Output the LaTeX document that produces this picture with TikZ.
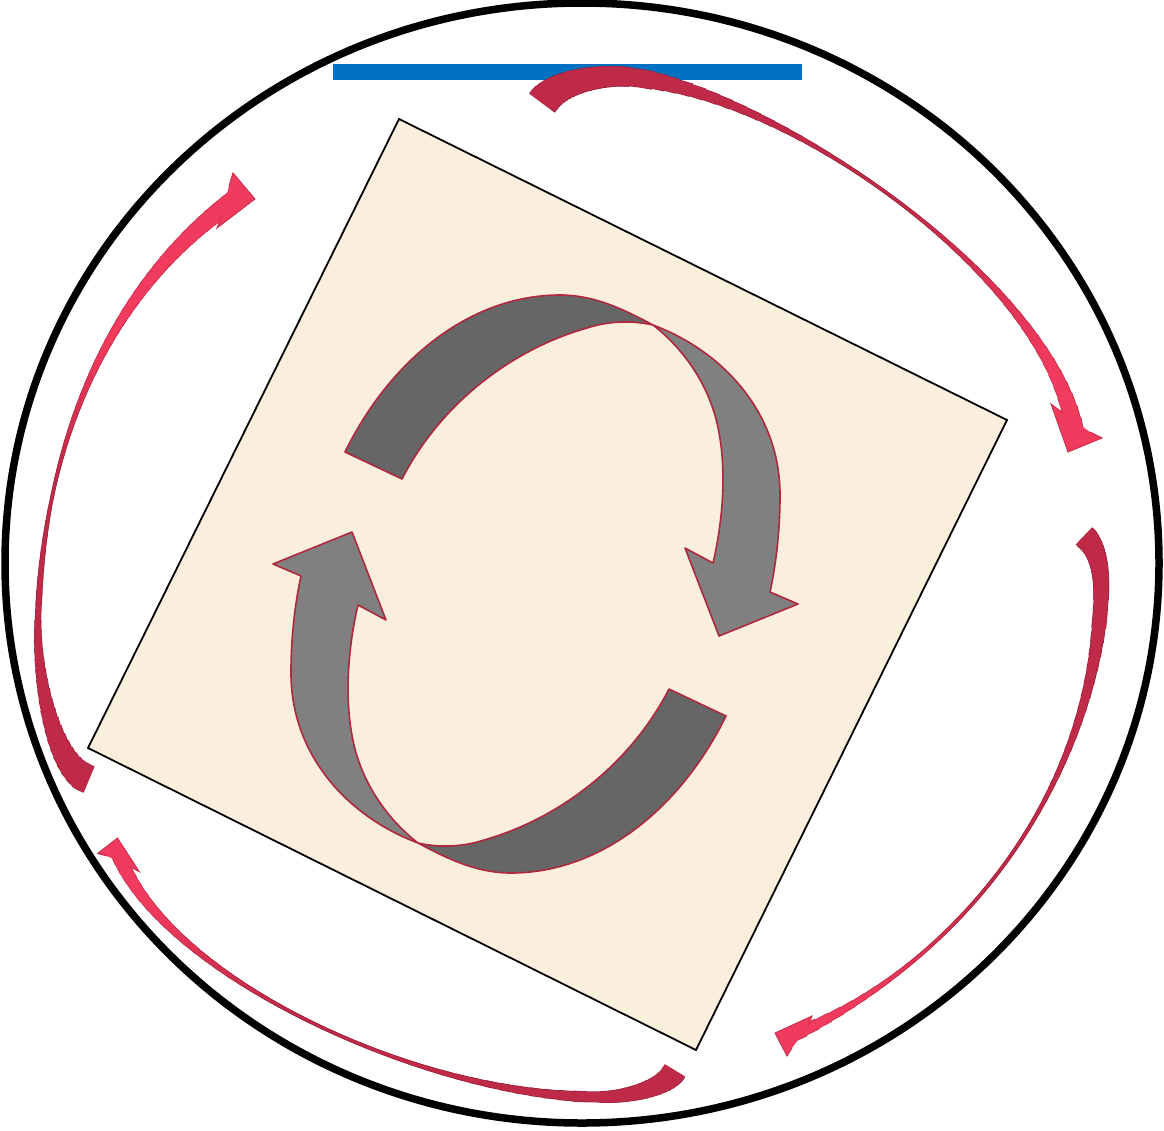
\documentclass[tikz,border=0pt]{standalone}
\definecolor{rdark}{HTML}{BE2A48}
\definecolor{rbright}{HTML}{F03A5E}
\definecolor{redge}{HTML}{C8304E}
\definecolor{gdark}{HTML}{666666}
\definecolor{glight}{HTML}{808080}
\definecolor{gedge}{HTML}{B0283F}
\definecolor{paper}{HTML}{FAEEDD}
\definecolor{barblue}{HTML}{0070C0}
% sample a cubic curve into named coordinates #1 0..#2
\newcommand\samplecurve[6]{%
  \foreach \k in {0,...,#2}{\path #3 .. controls #4 and #5 .. #6 coordinate[pos=\k/#2] (#1\k);}}
% tapered stroke: #1 prefix, #2 count, #3 width(\tq), #4 bright %(\tq), #5 extra width, #6 colour suffix
\newcommand\tapercore[6]{%
  \foreach \k in {1,...,#2}{%
    \pgfmathtruncatemacro\kp{\k-1}%
    \pgfmathtruncatemacro\kn{min(\k+1,#2)}%
    \pgfmathsetmacro\tq{(\k-0.5)/#2}%
    \pgfmathsetmacro\tpw{#3+#5}%
    \pgfmathtruncatemacro\mx{max(0,min(100,#4))}%
    \ifnum\k<#2
      \draw[line width=\tpw pt, draw=rbright!\mx!rdark#6, line cap=butt, line join=round] (#1\kp) -- (#1\k) -- (#1\kn);
    \else
      \draw[line width=\tpw pt, draw=rbright!\mx!rdark#6, line cap=butt] (#1\kp) -- (#1\k);
    \fi
  }%
}
\newcommand\taperout[4]{\tapercore{#1}{#2}{#3}{#4}{1.5}{!82!black}}
\newcommand\taperfill[4]{\tapercore{#1}{#2}{#3}{#4}{0}{}}
\tikzset{
  garrow/.style={draw=gedge, line width=1.6pt, line join=round},
  rhead/.style={fill=rbright},
  rheadedge/.style={draw=redge, line width=0.9pt, line join=miter}
}
\begin{document}
\begin{tikzpicture}[x=1pt,y=-1pt]
\useasboundingbox (0,0) rectangle (1164,1130);
% outer circle
\coordinate (cc) at (582,563);
\draw[line width=7.5pt] (cc) ellipse [x radius=577, y radius=560];
% blue bar
\coordinate (bl) at (333,64);
\coordinate (br) at (802,80);
\fill[barblue] (bl) rectangle (br);
% tilted square
\coordinate (sq1) at (399,119);
\coordinate (sq2) at (1007,420);
\coordinate (sq3) at (696,1050);
\coordinate (sq4) at (88,748);
\filldraw[fill=paper, draw=black, line width=1.8pt, line join=miter] (sq1) -- (sq2) -- (sq3) -- (sq4) -- cycle;
% gray cycle arrows
\foreach \ang in {0,180}{
\begin{scope}[rotate around={\ang:(535.5,584)}]
\filldraw[garrow, fill=glight] (653,325) .. controls (725,352) and (781,415) .. (780,497)
  .. controls (780,530) and (776,565) .. (770,592)
  -- (798,604) -- (719,636) -- (685,548) -- (713,563)
  .. controls (722,525) and (728,470) .. (717,423)
  .. controls (708,385) and (685,350) .. (653,325) -- cycle;
\filldraw[garrow, fill=gdark] (345,452) .. controls (390,360) and (470,295) .. (560,295)
  .. controls (595,295) and (625,310) .. (653,325)
  .. controls (635,321) and (612,320) .. (587,328)
  .. controls (510,350) and (440,405) .. (402,479) -- cycle;
\end{scope}
}
% ---- red arrow A (top) ----
\samplecurve{ra}{20}{(542,103)}{(555.75,82)}{(600,74)}{(630,77)}
\samplecurve{rb}{40}{(630,77)}{(780,92)}{(1049.9,278.5)}{(1074.3,430.2)}
\def\wAa{18+13*(1-\tq)^1.5}
\def\wAb{2+16*(max(0,0.45-\tq)/0.45)*(max(0,0.45-\tq)/0.45)+16*(max(0,\tq-0.45)/0.55)*(max(0,\tq-0.45)/0.55)}
\taperout{ra}{20}{\wAa}{0}
\taperout{rb}{40}{\wAb}{100*(\tq-0.5)/0.35}
\taperfill{ra}{20}{\wAa}{0}
\taperfill{rb}{40}{\wAb}{100*(\tq-0.5)/0.35}
\coordinate (aN1) at (1090,432); \coordinate (aB1) at (1102,438); \coordinate (aP) at (1068,452);
\coordinate (aB2) at (1051,404); \coordinate (aN2) at (1063,413);
\fill[rhead] (aN1) -- (aB1) -- (aP) -- (aB2) -- (aN2) -- cycle;
\draw[rheadedge] (aN1) -- (aB1) -- (aP) -- (aB2) -- (aN2);
% ---- red arrow B (left) ----
\samplecurve{la}{20}{(89,779.5)}{(55.4,769.7)}{(36,680)}{(38,620)}
\samplecurve{lb}{40}{(38,620)}{(44,420)}{(123.5,278.4)}{(233.5,200.1)}
\def\wBa{5+23*(1-\tq)^1.5}
\def\wBb{5-3*min(\tq,0.2)/0.2+16*(max(0.0001,\tq-0.2)/0.8)^1.5}
\taperout{la}{20}{\wBa}{0}
\taperout{lb}{40}{\wBb}{100*(\tq-0.25)/0.3}
\taperfill{la}{20}{\wBa}{0}
\taperfill{lb}{40}{\wBb}{100*(\tq-0.25)/0.3}
\coordinate (bN1) at (229,186); \coordinate (bB1) at (233,173); \coordinate (bP) at (255,199);
\coordinate (bB2) at (217,228); \coordinate (bN2) at (222,215);
\fill[rhead] (bN1) -- (bB1) -- (bP) -- (bB2) -- (bN2) -- cycle;
\draw[rheadedge] (bN1) -- (bB1) -- (bP) -- (bB2) -- (bN2);
% ---- red arrow C (right) ----
\samplecurve{ca}{20}{(1084,536)}{(1099,549.2)}{(1102.25,575)}{(1101,600)}
\samplecurve{cb}{40}{(1101,600)}{(1091.5,790)}{(961.7,961.7)}{(792.1,1035.7)}
\def\wCa{14+9*(1-\tq)*(1-\tq)}
\def\wCb{2+12*(max(0,0.5-\tq)/0.5)*(max(0,0.5-\tq)/0.5)+11*(max(0.0001,\tq-0.5)/0.5)^4}
\taperout{ca}{20}{\wCa}{0}
\taperout{cb}{40}{\wCb}{100*(\tq-0.55)/0.3}
\taperfill{ca}{20}{\wCa}{0}
\taperfill{cb}{40}{\wCb}{100*(\tq-0.55)/0.3}
\coordinate (cN1) at (808,1026); \coordinate (cB1) at (812,1016); \coordinate (cP) at (775,1033);
\coordinate (cB2) at (787,1056); \coordinate (cN2) at (792,1048);
\fill[rhead] (cN1) -- (cB1) -- (cP) -- (cB2) -- (cN2) -- cycle;
\draw[rheadedge] (cN1) -- (cB1) -- (cP) -- (cB2) -- (cN2);
% ---- red arrow D (bottom) ----
\samplecurve{da}{20}{(675,1070.5)}{(666,1088.3)}{(625,1097.5)}{(600,1097)}
\samplecurve{db}{40}{(600,1097)}{(420,1097)}{(163.5,975.5)}{(118,853.3)}
\def\wDa{10+13*(1-\tq)^1.5}
\def\wDb{2+8*(max(0,0.45-\tq)/0.45)*(max(0,0.45-\tq)/0.45)+12*(max(0,\tq-0.45)/0.55)*(max(0,\tq-0.45)/0.55)}
\taperout{da}{20}{\wDa}{0}
\taperout{db}{40}{\wDb}{100*(\tq-0.55)/0.3}
\taperfill{da}{20}{\wDa}{0}
\taperfill{db}{40}{\wDb}{100*(\tq-0.55)/0.3}
\coordinate (dN1) at (107,856); \coordinate (dB1) at (97.5,853.5); \coordinate (dP) at (117.5,838);
\coordinate (dB2) at (139.3,871.7); \coordinate (dN2) at (129.5,866.5);
\fill[rhead] (dN1) -- (dB1) -- (dP) -- (dB2) -- (dN2) -- cycle;
\draw[rheadedge] (dN1) -- (dB1) -- (dP) -- (dB2) -- (dN2);
\end{tikzpicture}
\end{document}
